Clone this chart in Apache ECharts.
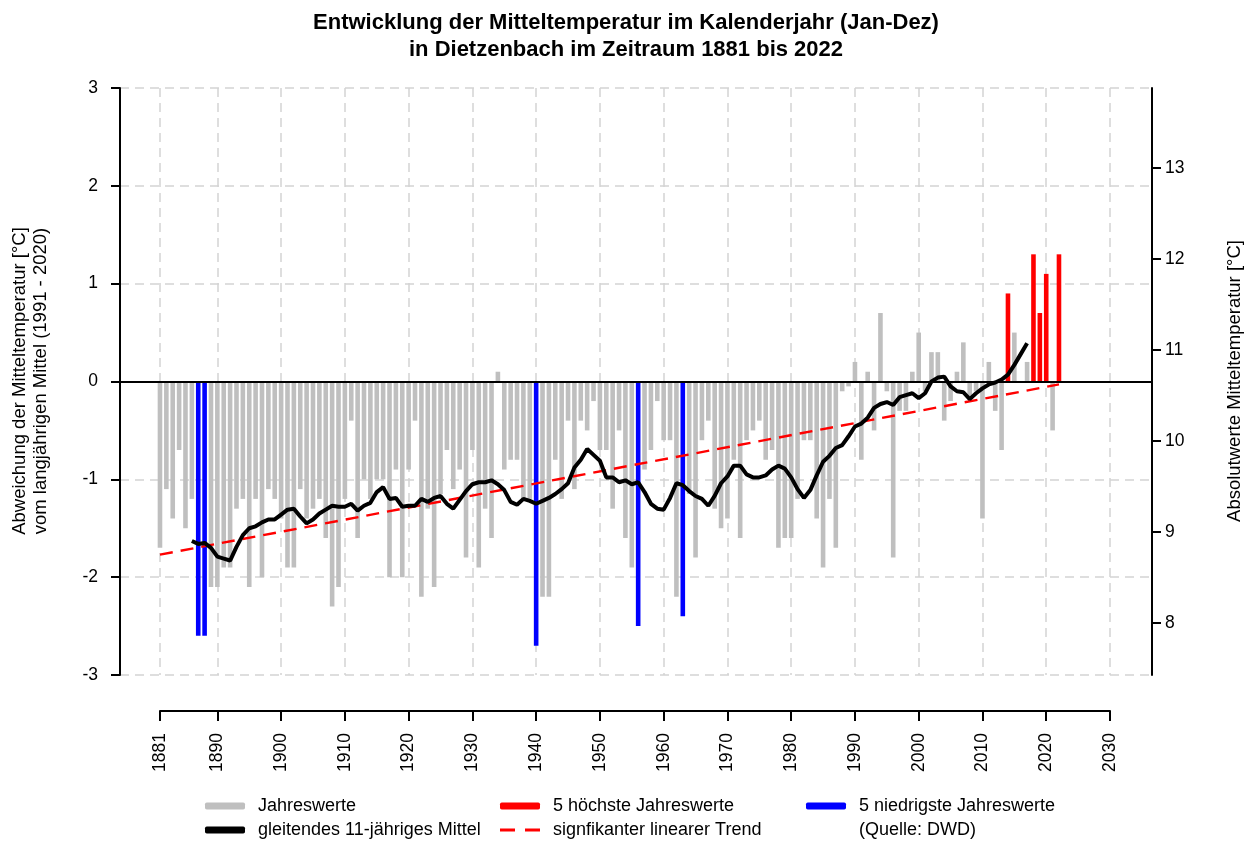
<!DOCTYPE html>
<html style="height: 100%">
  <head>
    <meta charset="utf-8" />
  </head>
  <body style="height: 100%; margin: 0; background: #fff">
    <div id="container" style="width: 1252px; height: 847px"></div>

    <script
      type="text/javascript"
      src="https://cdn.jsdelivr.net/npm/echarts@6/dist/echarts.min.js"
    ></script>

    <script type="text/javascript">
      var dom = document.getElementById("container");
      var myChart = echarts.init(dom);

      // Jahreswerte: Abweichung vom Mittel 1991-2020, ab 1881
      var firstYear = 1881;
      var anomalies = [
        -1.7, -1.1, -1.4, -0.7, -1.5, -1.2, -2.6, -2.6, -2.1, -2.1,
        -1.9, -1.9, -1.3, -1.2, -2.1, -1.2, -2.0, -1.1, -1.2, -1.4,
        -1.9, -1.9, -1.1, -1.4, -1.3, -1.2, -1.6, -2.3, -2.1, -1.2,
        -0.4, -1.6, -1.0, -1.2, -1.0, -1.0, -2.0, -0.9, -2.0, -0.9,
        -0.4, -2.2, -1.3, -2.1, -1.15, -0.7, -1.1, -0.9, -1.8, -0.7,
        -1.9, -1.3, -1.6, 0.1, -0.9, -0.8, -0.8, -1.2, -1.2, -2.7,
        -2.2, -2.2, -0.8, -1.2, -0.4, -1.1, -0.4, -0.5, -0.2, -0.7,
        -0.7, -1.3, -0.5, -1.6, -1.9, -2.5, -0.9, -0.7, -0.2, -0.6,
        -0.6, -2.2, -2.4, -1.15, -1.8, -0.6, -0.4, -1.3, -1.5, -1.4,
        -0.8, -1.6, -0.6, -0.5, -0.4, -0.8, -0.7, -1.7, -1.6, -1.6,
        -1.2, -0.6, -0.6, -1.4, -1.9, -1.2, -1.7, -0.1, -0.05, 0.2,
        -0.8, 0.1, -0.5, 0.7, -0.1, -1.8, -0.3, -0.3, 0.1, 0.5,
        -0.1, 0.3, 0.3, -0.4, -0.2, 0.1, 0.4, -0.15, -0.1, -1.4,
        0.2, -0.3, -0.7, 0.9, 0.5, 0.0, 0.2, 1.3, 0.7, 1.1,
        -0.5, 1.3
      ];

      var highestYears = [2014, 2018, 2019, 2020, 2022];
      var lowestYears = [1887, 1888, 1940, 1956, 1963];

      // gleitendes 11-jaehriges Mittel, 1886 bis 2017
      var movingAvgStart = 1886;
      var movingAvg = [
        -1.63, -1.66, -1.65, -1.7, -1.79,
        -1.81, -1.83, -1.69, -1.57, -1.5, -1.48, -1.44, -1.41, -1.41, -1.36,
        -1.31, -1.3, -1.38, -1.45, -1.41, -1.35, -1.31, -1.27, -1.28, -1.28,
        -1.25, -1.32, -1.27, -1.24, -1.13, -1.08, -1.2, -1.19, -1.28, -1.27,
        -1.27, -1.2, -1.23, -1.19, -1.17, -1.25, -1.3, -1.21, -1.12, -1.05,
        -1.03, -1.03, -1.01, -1.05, -1.11, -1.23, -1.26, -1.2, -1.22, -1.25,
        -1.22, -1.19, -1.15, -1.1, -1.04, -0.88, -0.8, -0.69, -0.75, -0.81,
        -0.98, -0.98, -1.03, -1.01, -1.05, -1.03, -1.13, -1.25, -1.3, -1.31,
        -1.19, -1.04, -1.06, -1.12, -1.17, -1.2, -1.27, -1.17, -1.04, -0.97,
        -0.86, -0.86, -0.95, -0.98, -0.98, -0.96, -0.9, -0.86, -0.89, -0.98,
        -1.1, -1.19, -1.11, -0.96, -0.82, -0.76, -0.68, -0.65, -0.56, -0.46,
        -0.43, -0.37, -0.27, -0.23, -0.21, -0.24, -0.16, -0.14, -0.12, -0.17,
        -0.12, 0.0, 0.04, 0.05, -0.05, -0.1, -0.11, -0.18, -0.12, -0.07,
        -0.03, -0.01, 0.02, 0.07, 0.17, 0.28, 0.39
      ];

      // linearer Trend (Endpunkte)
      var trendYears = [1881, 2022];
      var trendValues = [-1.77, -0.03];

      var yearTicks = [1881, 1890, 1900, 1910, 1920, 1930, 1940, 1950, 1960,
        1970, 1980, 1990, 2000, 2010, 2020, 2030];
      var absTicks = [8, 9, 10, 11, 12, 13];

      var font = "'Liberation Sans', Arial, sans-serif";

      var grayData = [], redData = [], blueData = [];
      anomalies.forEach(function (v, i) {
        var yr = firstYear + i;
        if (highestYears.indexOf(yr) >= 0) redData.push([yr, v]);
        else if (lowestYears.indexOf(yr) >= 0) blueData.push([yr, v]);
        else grayData.push([yr, v]);
      });
      var avgData = movingAvg.map(function (v, i) {
        return [movingAvgStart + i, v];
      });
      var trendData = trendYears.map(function (y, i) {
        return [y, trendValues[i]];
      });

      var gridLine = { show: true, lineStyle: { color: "#d4d4d4", width: 1.5, type: [9, 6] } };

      // one legend per entry so the two rows sit like the original
      function legendItem(name, icon, left, centerY, h) {
        return {
          left: left, top: centerY - 10, padding: 0,
          itemWidth: 40, itemHeight: h || 7, selectedMode: false,
          textStyle: { fontSize: 18, color: "#000", fontFamily: font, lineHeight: 20, padding: [0, 0, 0, 8] },
          data: [{ name: name, icon: icon }]
        };
      }
      var dashIcon = "path://M0,0 L15,0 L15,3 L0,3 Z M25,0 L40,0 L40,3 L25,3 Z";

      var option = {
        animation: false,
        backgroundColor: "#fff",
        textStyle: { fontFamily: font },
        title: {
          text: "Entwicklung der Mitteltemperatur im Kalenderjahr (Jan-Dez)\nin Dietzenbach im Zeitraum 1881 bis 2022",
          left: "center",
          top: 4,
          textStyle: { fontSize: 22, fontWeight: "bold", color: "#000", lineHeight: 27, fontFamily: font }
        },
        grid: [
          { left: 120, right: 100, top: 88, bottom: 172, outerBoundsMode: "none" },
          { left: 160, right: 142, top: 700, bottom: 136, outerBoundsMode: "none" }
        ],
        xAxis: [
          {
            gridIndex: 0, type: "value", min: 1874.73, max: 2036.59,
            axisLine: { show: false },
            axisTick: { show: false, customValues: yearTicks },
            axisLabel: { show: false },
            splitLine: gridLine
          },
          {
            gridIndex: 1, type: "value", min: 1881, max: 2030, position: "bottom",
            axisLine: { show: true, onZero: false, lineStyle: { color: "#000", width: 2 } },
            axisTick: { show: true, length: 10, customValues: yearTicks, lineStyle: { color: "#000", width: 2 } },
            axisLabel: {
              rotate: 90, margin: 22, fontSize: 17.5, color: "#000", customValues: yearTicks,
              formatter: function (v) { return String(v); }
            },
            splitLine: { show: false }
          }
        ],
        yAxis: [
          {
            gridIndex: 0, type: "value", min: -3, max: 3, interval: 1, position: "left",
            axisLine: { show: true, onZero: false, lineStyle: { color: "#000", width: 2 } },
            axisTick: { show: true, length: 9, lineStyle: { color: "#000", width: 2 } },
            axisLabel: { margin: 22, fontSize: 17.5, color: "#000" },
            splitLine: gridLine
          },
          {
            gridIndex: 0, type: "value", min: 7.429, max: 13.879, position: "right",
            axisLine: { show: true, onZero: false, lineStyle: { color: "#000", width: 2 } },
            axisTick: { show: true, length: 9, customValues: absTicks, lineStyle: { color: "#000", width: 2 } },
            axisLabel: { margin: 13, fontSize: 17.5, color: "#000", customValues: absTicks },
            splitLine: { show: false }
          },
          { gridIndex: 1, type: "value", min: 0, max: 1, show: false }
        ],
        legend: [
          legendItem("Jahreswerte", "roundRect", 205, 806),
          legendItem("gleitendes 11-jähriges Mittel", "roundRect", 205, 830),
          legendItem("5 höchste Jahreswerte", "roundRect", 500, 806),
          legendItem("signfikanter linearer Trend", dashIcon, 500, 830, 3),
          legendItem("5 niedrigste Jahreswerte", "roundRect", 806, 806)
        ],
        graphic: [
          {
            type: "text", x: 20, y: 381, rotation: Math.PI / 2,
            style: { text: "Abweichung der Mitteltemperatur [°C]", textAlign: "center", textVerticalAlign: "middle", fontSize: 18.5, fontFamily: font, fill: "#000" }
          },
          {
            type: "text", x: 41, y: 381, rotation: Math.PI / 2,
            style: { text: "vom langjährigen Mittel (1991 - 2020)", textAlign: "center", textVerticalAlign: "middle", fontSize: 18.5, fontFamily: font, fill: "#000" }
          },
          {
            type: "text", x: 1235, y: 381, rotation: Math.PI / 2,
            style: { text: "Absolutwerte Mitteltemperatur [°C]", textAlign: "center", textVerticalAlign: "middle", fontSize: 18.5, fontFamily: font, fill: "#000" }
          },
          {
            type: "text", x: 859, y: 830,
            style: { text: "(Quelle: DWD)", textAlign: "left", textVerticalAlign: "middle", fontSize: 18, fontFamily: font, fill: "#000" }
          }
        ],
        series: [
          {
            name: "Jahreswerte", type: "bar", xAxisIndex: 0, yAxisIndex: 0,
            barWidth: 4.6, barGap: "-100%", itemStyle: { color: "#bfbfbf" },
            data: grayData, z: 2,
            markLine: {
              silent: true, symbol: "none", label: { show: false },
              lineStyle: { color: "#000", width: 2, type: "solid" },
              data: [{ yAxis: 0 }]
            }
          },
          {
            name: "5 höchste Jahreswerte", type: "bar", xAxisIndex: 0, yAxisIndex: 0,
            barWidth: 4.6, barGap: "-100%", itemStyle: { color: "#ff0000" },
            data: redData, z: 2
          },
          {
            name: "5 niedrigste Jahreswerte", type: "bar", xAxisIndex: 0, yAxisIndex: 0,
            barWidth: 4.6, barGap: "-100%", itemStyle: { color: "#0000ff" },
            data: blueData, z: 2
          },
          {
            name: "signfikanter linearer Trend", type: "line", xAxisIndex: 0, yAxisIndex: 0,
            symbol: "none", itemStyle: { color: "#ff0000" },
            lineStyle: { color: "#ff0000", width: 2.4, type: [13, 8] },
            data: trendData, z: 3
          },
          {
            name: "gleitendes 11-jähriges Mittel", type: "line", xAxisIndex: 0, yAxisIndex: 0,
            symbol: "none", itemStyle: { color: "#000" },
            lineStyle: { color: "#000", width: 4 },
            data: avgData, z: 4
          }
        ]
      };

      option && myChart.setOption(option);
    </script>
  </body>
</html>
